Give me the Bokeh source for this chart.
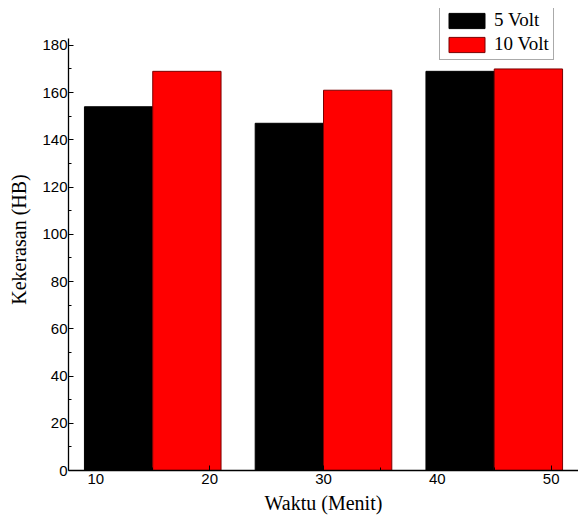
from bokeh.plotting import figure
from bokeh.models import Range1d, FixedTicker, Legend, LegendItem, ColumnDataSource
from bokeh.embed import file_html
from bokeh.resources import INLINE

# Data
groups = [15, 30, 45]
volt5 = [154, 147, 169]
volt10 = [169, 161, 170]
x_ticks = [10, 20, 30, 40, 50]
y_ticks = [0, 20, 40, 60, 80, 100, 120, 140, 160, 180]
series_names = ["5 Volt", "10 Volt"]

offset = 3
bar_w = 6
y_axis_top = 182.8

p = figure(width=578, height=516, output_backend="svg", toolbar_location=None,
           x_range=Range1d(7.6, 52.4), y_range=Range1d(0, 195.6),
           min_border_left=68, min_border_right=0, min_border_top=8, min_border_bottom=45)
p.outline_line_color = None
p.grid.visible = False
p.background_fill_color = "white"
p.border_fill_color = "white"

src5 = ColumnDataSource(dict(x=[g - offset for g in groups], top=volt5))
src10 = ColumnDataSource(dict(x=[g + offset for g in groups], top=volt10))
r5 = p.vbar(x="x", top="top", width=bar_w, source=src5, fill_color="black",
            line_color="black", line_width=1)
r10 = p.vbar(x="x", top="top", width=bar_w, source=src10, fill_color="#FF0000",
             line_color="#7a0000", line_width=1)

for ax in (p.xaxis[0], p.yaxis[0]):
    ax.axis_line_color = "black"
    ax.axis_line_width = 1.3
    ax.major_tick_in = 5
    ax.major_tick_out = 0
    ax.minor_tick_in = 3
    ax.minor_tick_out = 0
    ax.major_label_text_font = "Liberation Sans"
    ax.major_label_text_font_size = "15px"
    ax.major_label_text_color = "black"
    ax.axis_label_text_font = "Liberation Serif"
    ax.axis_label_text_font_size = "20px"
    ax.axis_label_text_font_style = "normal"
    ax.axis_label_text_color = "black"

p.yaxis.bounds = (0, y_axis_top)
p.xaxis.ticker = FixedTicker(ticks=x_ticks, minor_ticks=[15, 25, 35, 45])
p.yaxis.ticker = FixedTicker(ticks=y_ticks, minor_ticks=[10, 30, 50, 70, 90, 110, 130, 150, 170])
p.xaxis.major_label_standoff = 3
p.yaxis.major_label_standoff = 1
p.xaxis.axis_label = "Waktu (Menit)"
p.yaxis.axis_label = "Kekerasan (HB)"
p.xaxis.axis_label_standoff = 5
p.yaxis.axis_label_standoff = 9

legend = Legend(items=[LegendItem(label=series_names[0], renderers=[r5]),
                       LegendItem(label=series_names[1], renderers=[r10])],
                location=(371, 410))
legend.glyph_width = 45
legend.glyph_height = 19
legend.label_height = 19
legend.label_text_font = "Liberation Serif"
legend.label_text_font_size = "19px"
legend.label_text_color = "black"
legend.label_standoff = 5
legend.spacing = 2
legend.padding = 4
legend.margin = 0
legend.border_line_color = "#555555"
legend.border_line_width = 1
legend.background_fill_alpha = 1
p.add_layout(legend, "center")

open("out.html", "w").write(file_html(p, INLINE))
